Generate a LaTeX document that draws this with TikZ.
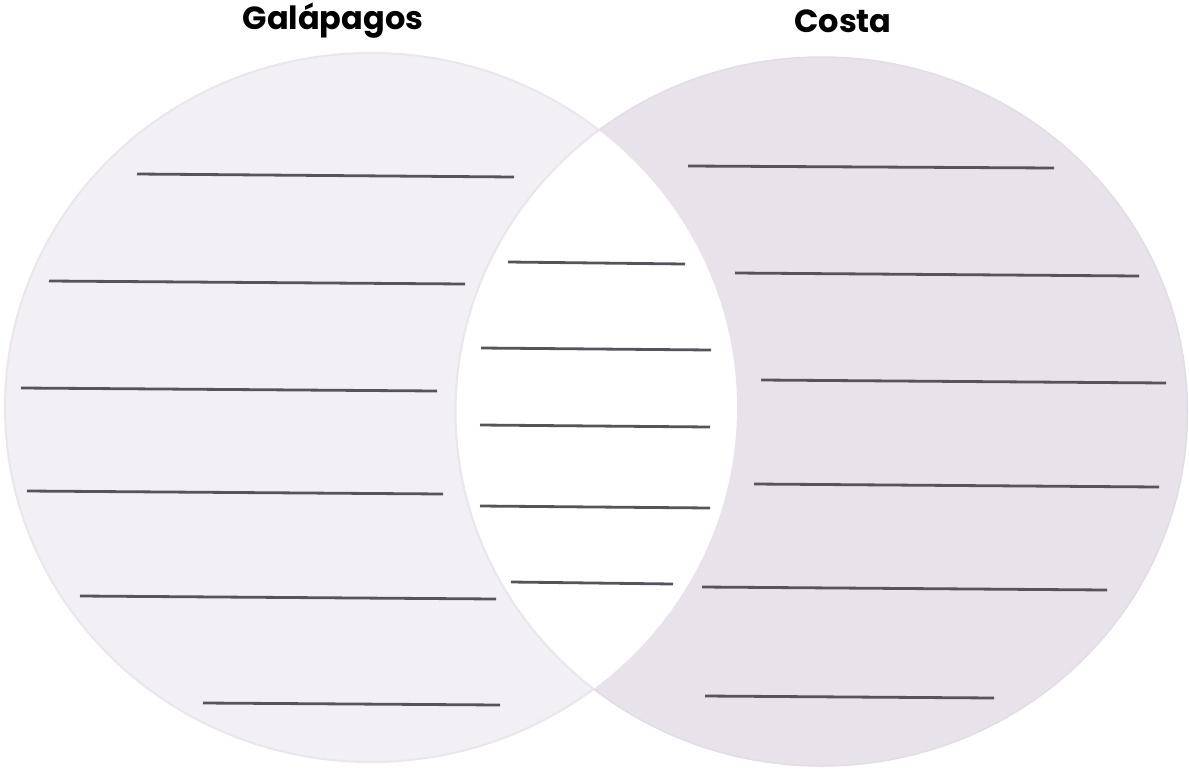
\documentclass[tikz,border=0pt]{standalone}
\usepackage{fontspec}
\newfontfamily\titlefont{Poppins}
\definecolor{galafill}{HTML}{F3F0F5}
\definecolor{galaedge}{HTML}{E9E6EC}
\definecolor{costafill}{HTML}{E8E2EA}
\definecolor{costaedge}{HTML}{E2DDE5}
\definecolor{lineink}{HTML}{56545A}
\begin{document}
\begin{tikzpicture}[
        x=1pt, y=-1pt,
        title/.style={font=\titlefont\bfseries\fontsize{32}{38}\selectfont, inner sep=0pt},
        blank/.style={draw=lineink, line width=2.8pt},
        gala/.style={fill=galafill, draw=galaedge, line width=2pt},
        costa/.style={fill=costafill, draw=costaedge, line width=1.5pt}
    ]
        \useasboundingbox (0,0) rectangle (1189,769);

        % Circles
        \path[gala] (371,407.5) ellipse [x radius=366, y radius=354.5];
        \path[costa] (821.5,411.5) ellipse [x radius=366, y radius=354.5];
        \begin{scope}
            \clip (371,407.5) ellipse [x radius=366, y radius=354.5];
            \fill[white] (821.5,411.5) ellipse [x radius=366, y radius=354.5];
            \draw[galaedge, line width=2pt] (821.5,411.5) ellipse [x radius=366, y radius=354.5];
        \end{scope}

        % Titles
        \node[title] (galapagos) at (333,21) {Galápagos};
        \node[title] (costa) at (843,21) {Costa};

        % Writing lines
        \foreach \xa/\ya/\xb/\yb in {
            137/174/514/177, 49/281/465/284, 21/388/437/391,
            27/491/443/494, 80/596/496/599, 203/703/500/705,
            508/262/685/264, 481/348/711/350, 480/425/710/427,
            480/506/710/508, 511/582/673/584,
            688/166/1054/168, 735/273/1139/276, 761/380/1166/383,
            754/484/1159/487, 702/587/1107/590, 705/696/994/698}
            \draw[blank] (\xa,\ya) -- (\xb,\yb);
    \end{tikzpicture}
\end{document}
